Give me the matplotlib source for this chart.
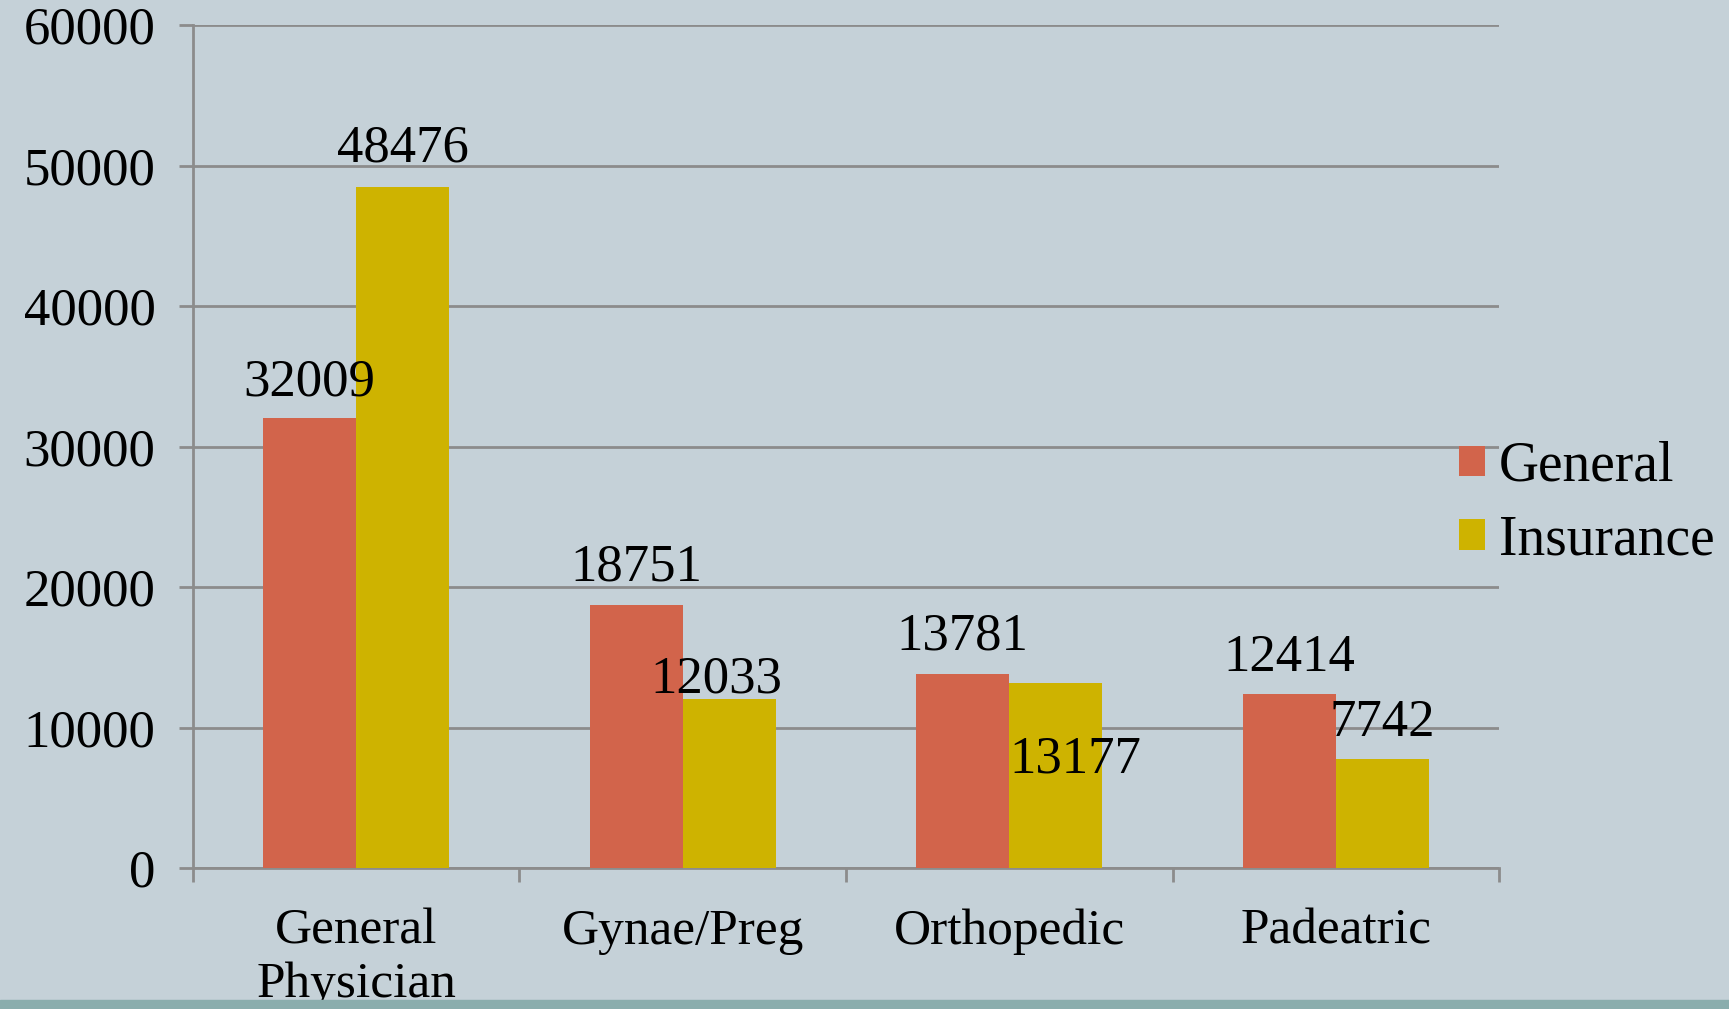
import matplotlib
matplotlib.use('Agg')
import matplotlib.pyplot as plt
import numpy as np
from matplotlib.patches import Rectangle

categories = ['General\nPhysician', 'Gynae/Preg', 'Orthopedic', 'Padeatric']
general = [32009, 18751, 13781, 12414]
insurance = [48476, 12033, 13177, 7742]
y_ticks = [0, 10000, 20000, 30000, 40000, 50000, 60000]

plt.rcParams['font.family'] = ['Liberation Serif', 'DejaVu Serif']

bg = '#c5d1d8'
red = '#d2644b'
gold = '#ceb300'
gray = '#8c8c8c'

fig = plt.figure(figsize=(17.29, 10.09), dpi=100, facecolor=bg)
ax = fig.add_axes([0.1116, 0.1397, 0.867 - 0.1116, 0.9752 - 0.1397])
ax.set_facecolor(bg)

x = np.arange(len(categories))
w = 0.285
b1 = ax.bar(x - w / 2, general, w, color=red, label='General', zorder=3)
b2 = ax.bar(x + w / 2, insurance, w, color=gold, label='Insurance', zorder=3)

# label offsets in points (Excel-style placement)
off_gen = [(0, 26), (0, 27), (0, 27), (0, 26)]
off_ins = [(0, 28), (-9, 14), (14, -55), (0, 26)]
for bars, vals, offs in [(b1, general, off_gen), (b2, insurance, off_ins)]:
    for r, v, o in zip(bars, vals, offs):
        ax.annotate(str(v), (r.get_x() + r.get_width() / 2, v), xytext=o,
                    textcoords='offset points', ha='center', va='center',
                    fontsize=38, color='black', zorder=4)

ax.set_xlim(-0.5, len(categories) - 0.5)
ax.set_ylim(0, 60000)
ax.set_yticks(y_ticks)
ax.set_yticklabels([str(t) for t in y_ticks], fontsize=38)
ax.yaxis.grid(True, color=gray, linewidth=2, zorder=1)
ax.tick_params(axis='y', length=10, width=2, color=gray, pad=17)

ax.set_xticks(x)
ax.set_xticklabels(categories, fontsize=37, linespacing=1.2)
ax.set_xticks(np.arange(-0.5, len(categories)), minor=True)
ax.tick_params(axis='x', which='major', length=0, pad=29)
ax.tick_params(axis='x', which='minor', length=10, width=2, color=gray)

for s in ['top', 'right']:
    ax.spines[s].set_visible(False)
for s in ['left', 'bottom']:
    ax.spines[s].set_color(gray)
    ax.spines[s].set_linewidth(2)
    ax.spines[s].set_zorder(2)

fig.legend(handles=[b1, b2], labels=['General', 'Insurance'], loc='center left',
           bbox_to_anchor=(0.8438, 0.501), frameon=False, fontsize=40,
           handlelength=0.47, handleheight=0.47, handletextpad=0.25,
           labelspacing=0.38, borderpad=0, borderaxespad=0)

fig.patches.append(Rectangle((0, 0), 1, 9 / 1009, transform=fig.transFigure,
                             color='#8aadad', zorder=10))

fig.savefig('out.png', dpi=100, facecolor=bg)
